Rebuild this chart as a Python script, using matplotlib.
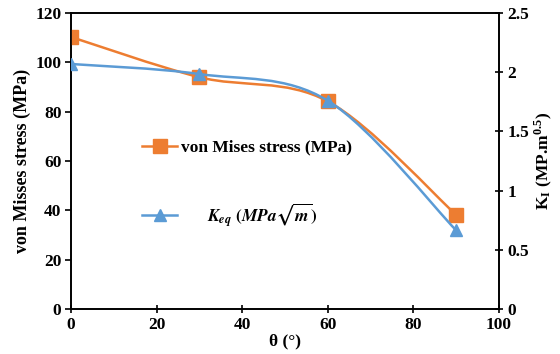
import numpy as np
import matplotlib.pyplot as plt
from matplotlib.path import Path
from matplotlib.patches import PathPatch
from matplotlib.lines import Line2D

plt.rcParams['font.family'] = 'Liberation Serif'
plt.rcParams['font.weight'] = 'bold'
plt.rcParams['mathtext.fontset'] = 'stix'

theta = [0, 30, 60, 90]
von_mises = [110.3, 94.0, 84.2, 38.2]
k_eq = [2.07, 1.985, 1.76, 0.665]

orange = '#ED7D31'
blue = '#5B9BD5'


def smooth_path(x, y, ax):
    # Excel-like smoothed line: Catmull-Rom as cubic Bezier in display space
    pts = ax.transData.transform(np.column_stack([x, y]))
    verts = [pts[0]]
    codes = [Path.MOVETO]
    n = len(pts)
    for i in range(n - 1):
        p0 = pts[i - 1] if i > 0 else pts[i]
        p1 = pts[i]
        p2 = pts[i + 1]
        p3 = pts[i + 2] if i + 2 < n else pts[i + 1]
        c1 = p1 + (p2 - p0) / 6
        c2 = p2 - (p3 - p1) / 6
        verts += [c1, c2, p2]
        codes += [Path.CURVE4] * 3
    return Path(verts, codes)


fig = plt.figure(figsize=(5.6, 3.54), dpi=100)
ax = fig.add_axes([0.127, 0.127, 0.764, 0.836])
ax2 = ax.twinx()

ax.set_xlim(0, 100)
ax.set_ylim(0, 120)
ax2.set_ylim(0, 2.5)
ax.set_xticks(range(0, 101, 20))
ax.set_yticks(range(0, 121, 20))
ax2.set_yticks([0, 0.5, 1, 1.5, 2, 2.5])
ax2.set_yticklabels(['0', '0.5', '1', '1.5', '2', '2.5'])

for a in (ax, ax2):
    for s in a.spines.values():
        s.set_linewidth(1.2)
    a.tick_params(labelsize=12.5, width=1.2, length=4, pad=3)
ax.tick_params(axis='x', direction='inout', length=6)
ax2.tick_params(axis='y', direction='inout', length=6)

ax.set_xlabel('θ (°)', fontsize=12.5, fontweight='bold', labelpad=0)
ax.set_ylabel('von Misses stress (MPa)', fontsize=13, fontweight='bold', labelpad=3)
ax2.set_ylabel(r'K$_\mathregular{I}$ (MP.m$^\mathregular{0.5}$)', fontsize=12.5, fontweight='bold', labelpad=2)

fig.canvas.draw()
ax.add_patch(PathPatch(smooth_path(theta, von_mises, ax), transform=None,
                       fill=False, edgecolor=orange, lw=1.8))
ax.plot(theta, von_mises, ls='none', marker='s', ms=10, color=orange, zorder=5)
ax2.add_patch(PathPatch(smooth_path(theta, k_eq, ax2), transform=None,
                        fill=False, edgecolor=blue, lw=1.8))
ax2.plot(theta, k_eq, ls='none', marker='^', ms=9, color=blue, zorder=5)

handles = [Line2D([], [], color=orange, marker='s', ms=10, lw=1.8),
           Line2D([], [], color=blue, marker='^', ms=9, lw=1.8)]
labels = ['von Mises stress (MPa)', r'      $K_{eq}\ (MPa\sqrt{m})$']
leg = ax.legend(handles, labels, loc='upper left', bbox_to_anchor=(0.13, 0.625),
                frameon=False, labelspacing=2.6, handlelength=2.0, handletextpad=0.2,
                prop={'size': 12.5, 'weight': 'bold'})

fig.savefig('out.png', dpi=100)
